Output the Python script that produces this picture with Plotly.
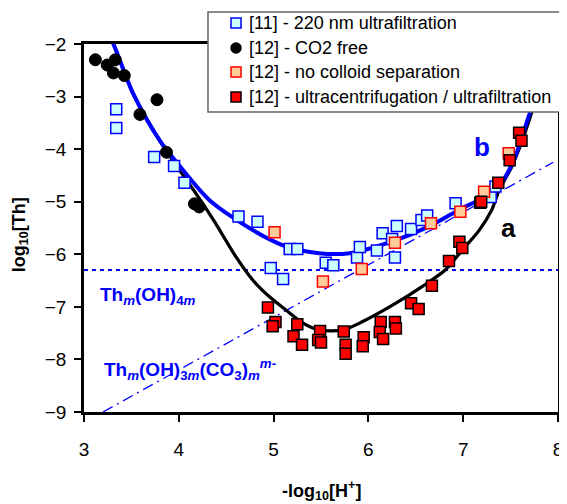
import plotly.graph_objects as go

# ── data ──────────────────────────────────────────────────────────────────────
ph_11 = [3.34, 3.34, 3.74, 3.95, 4.06, 4.63, 4.83, 5.17, 5.25, 4.97, 5.10, 5.55, 5.63,
         5.88, 5.91, 6.09, 6.15, 6.25, 6.28, 6.30, 6.45, 6.56, 6.62, 6.92, 7.29, 7.34]
th_11 = [-3.24, -3.60, -4.15, -4.32, -4.64, -5.28, -5.38, -5.90, -5.90, -6.26, -6.47, -6.16, -6.21,
         -6.06, -5.86, -5.93, -5.60, -5.71, -6.06, -5.46, -5.52, -5.35, -5.26, -5.03, -4.91, -4.71]

ph_co2 = [3.12, 3.245, 3.33, 3.31, 3.425, 3.77, 3.59, 3.87, 4.165, 4.215]
th_co2 = [-2.30, -2.40, -2.30, -2.55, -2.60, -3.06, -3.34, -4.06, -5.04, -5.10]

ph_nocol = [5.01, 5.52, 5.93, 6.28, 6.66, 6.97, 7.22, 7.48]
th_nocol = [-5.58, -6.52, -6.28, -5.78, -5.41, -5.19, -4.81, -4.08]

ph_uc = [4.94, 5.02, 4.99, 5.25, 5.21, 5.30, 5.49, 5.47, 5.50, 5.74, 5.76, 5.76, 5.95, 5.94,
         6.13, 6.12, 6.155, 6.28, 6.29, 6.45, 6.53, 6.67, 6.85, 6.96, 6.99, 7.18, 7.19,
         7.37, 7.49, 7.59, 7.615]
th_uc = [-7.01, -7.29, -7.37, -7.33, -7.56, -7.72, -7.46, -7.63, -7.68, -7.47, -7.72, -7.89, -7.58, -7.75,
         -7.29, -7.48, -7.61, -7.29, -7.41, -6.93, -7.04, -6.60, -6.13, -5.76, -5.88, -5.02, -5.00,
         -4.64, -4.21, -3.69, -3.84]

# model curves
ph_a = [3.25, 3.31, 3.52, 3.80, 3.95, 4.16, 4.37, 4.60, 4.78, 4.95, 5.13, 5.31, 5.48, 5.73,
        5.94, 6.29, 6.57, 6.81, 6.99, 7.17, 7.30, 7.38, 7.51, 7.62, 7.74, 7.87]
th_a = [-1.8, -2.0, -2.95, -3.84, -4.25, -4.79, -5.36, -6.04, -6.49, -6.80, -7.06, -7.31, -7.44, -7.44,
        -7.28, -6.93, -6.61, -6.30, -5.92, -5.54, -5.16, -4.78, -4.34, -3.85, -3.2, -2.4]

ph_b = [3.25, 3.31, 3.52, 3.80, 4.05, 4.33, 4.78, 5.13, 5.48, 5.80, 6.29, 6.64, 6.95, 7.34,
        7.52, 7.69, 7.85]
th_b = [-1.8, -2.0, -2.95, -3.84, -4.41, -4.98, -5.54, -5.85, -5.98, -5.98, -5.73, -5.47, -5.16, -4.78,
        -4.27, -3.38, -2.5]

ph_hyd = [3.0, 8.0]
th_hyd = [-6.30, -6.30]

ph_carb = [3.2, 7.95]
th_carb = [-9.0, -4.25]

legend_names = ['[11] - 220 nm ultrafiltration', '[12] - CO2 free',
                '[12] - no colloid separation', '[12] - ultracentrifugation / ultrafiltration']

FONT = 'Arial, Liberation Sans, sans-serif'

STYLES = [
    dict(symbol='square', size=11, color='#ccffff', line=dict(color='#0000ff', width=1.5)),
    dict(symbol='circle', size=12, color='black', line=dict(color='black', width=1)),
    dict(symbol='square', size=11, color='#ffcc99', line=dict(color='#ff0000', width=1.5)),
    dict(symbol='square', size=11, color='#ff0000', line=dict(color='black', width=1.5)),
]

fig = go.Figure()

fig.add_trace(go.Scatter(x=ph_hyd, y=th_hyd, mode='lines',
                         line=dict(color='#0000ff', width=2, dash='4px,4px')))
fig.add_trace(go.Scatter(x=ph_carb, y=th_carb, mode='lines',
                         line=dict(color='#0000ff', width=1.3, dash='11px,5px,2px,5px')))
fig.add_trace(go.Scatter(x=ph_a, y=th_a, mode='lines',
                         line=dict(color='black', width=3.3, shape='spline', smoothing=0.8)))
fig.add_trace(go.Scatter(x=ph_b, y=th_b, mode='lines',
                         line=dict(color='#0000ff', width=4, shape='spline', smoothing=0.8)))

for (xs, ys), name, st in zip([(ph_11, th_11), (ph_co2, th_co2), (ph_nocol, th_nocol), (ph_uc, th_uc)],
                              legend_names, STYLES):
    fig.add_trace(go.Scatter(x=xs, y=ys, mode='markers', name=name, marker=st))

# ── legend box drawn by hand (plotly's own legend pads too much) ──────────────
fig.add_shape(type='rect', xref='paper', yref='paper', x0=0.2616, x1=1.0148, y0=0.8152, y1=1.087,
              fillcolor='white', line=dict(color='#666666', width=1.5), layer='above')
row_y = [1.0571, 0.9891, 0.9239, 0.8560]
for name, st, ry in zip(legend_names, STYLES, row_y):
    fig.add_shape(type='circle' if st['symbol'] == 'circle' else 'rect',
                  xref='paper', yref='paper', xsizemode='pixel', ysizemode='pixel',
                  xanchor=0.3207, yanchor=ry, x0=-5, x1=5, y0=-5, y1=5,
                  fillcolor=st['color'], line=dict(color=st['line']['color'], width=1.5),
                  layer='above')
    fig.add_annotation(xref='paper', yref='paper', x=0.3439, y=ry, xanchor='left', yanchor='middle',
                       text=name, showarrow=False, font=dict(family=FONT, size=18, color='black'))

# labels on the plot
fig.add_annotation(x=7.20, y=-3.96, text='<b>b</b>', showarrow=False,
                   font=dict(family=FONT, size=26, color='#0000ff'))
fig.add_annotation(x=7.48, y=-5.50, text='<b>a</b>', showarrow=False,
                   font=dict(family=FONT, size=26, color='black'))
fig.add_annotation(x=3.15, y=-6.79, xanchor='left',
                   text='<b>Th<sub><i>m</i></sub>(OH)<sub>4<i>m</i></sub></b>', showarrow=False,
                   font=dict(family=FONT, size=19, color='#0000ff'))
fig.add_annotation(x=3.19, y=-8.20, xanchor='left',
                   text='<b>Th<sub><i>m</i></sub>(OH)<sub>3<i>m</i></sub>(CO<sub>3</sub>)'
                        '<sub><i>m</i></sub><sup><i>m</i>-</sup></b>',
                   showarrow=False, font=dict(family=FONT, size=19, color='#0000ff'))

# axis titles placed by hand so the plot area keeps its size
fig.add_annotation(xref='paper', yref='paper', x=-0.135, y=0.48, textangle=-90,
                   xanchor='center', yanchor='middle',
                   text='<b>log<sub>10</sub>[Th]</b>', showarrow=False,
                   font=dict(family=FONT, size=18, color='black'))
fig.add_annotation(xref='paper', yref='paper', x=0.5, y=-0.212,
                   xanchor='center', yanchor='middle',
                   text='<b>-log<sub>10</sub>[H<sup>+</sup>]</b>', showarrow=False,
                   font=dict(family=FONT, size=18, color='black'))

axis_common = dict(
    showline=True, linecolor='black', linewidth=2.5, mirror=True,
    ticks='outside', ticklen=7, tickwidth=1.5, tickcolor='black',
    showgrid=False, zeroline=False, automargin=False,
    tickfont=dict(family=FONT, size=19, color='black'),
)

fig.update_xaxes(range=[3, 8], dtick=1, ticklabelstandoff=11, **axis_common)
fig.update_yaxes(range=[-9, -2], dtick=1, ticklabelstandoff=4, **axis_common)

# the page body adds an 8px margin, so the figure is 8px smaller and shifted
fig.update_layout(
    width=559, height=496,
    margin=dict(l=76, r=9, t=36, b=92),
    paper_bgcolor='white', plot_bgcolor='white',
    font=dict(family=FONT, color='black'),
    showlegend=False,
)

fig.write_html("out.html")
